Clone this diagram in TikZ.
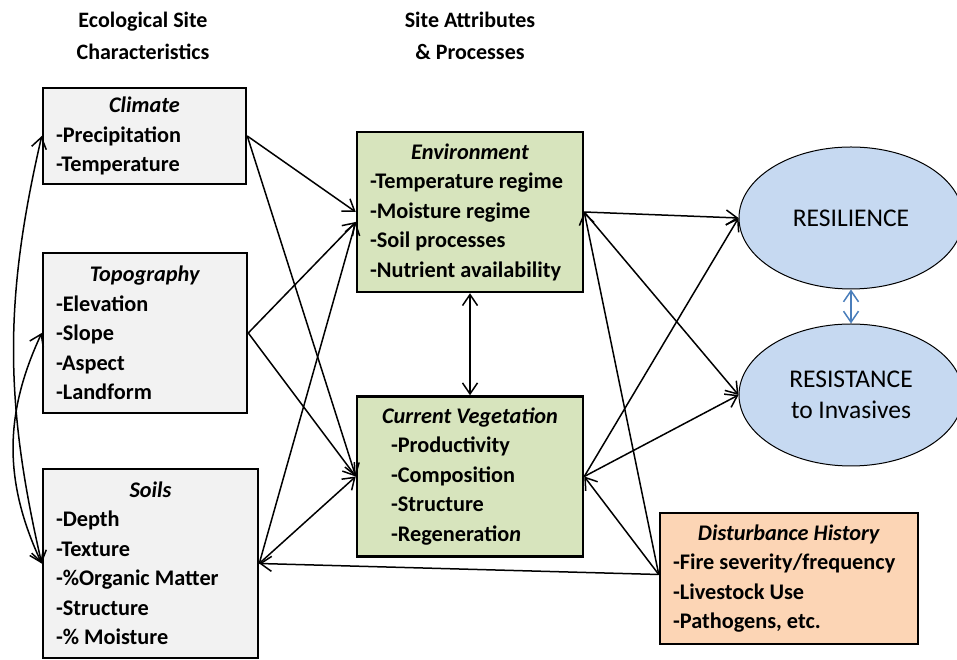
\documentclass[tikz,border=0pt]{standalone}
\usepackage{fontspec}
\setmainfont{Carlito}
\usepackage{xcolor}
\usepackage{tikz}
\usetikzlibrary{calc, arrows.meta, positioning, shapes.geometric}
\definecolor{boxgray}{HTML}{F2F2F2}
\definecolor{boxgreen}{HTML}{D7E4BD}
\definecolor{boxorange}{HTML}{FCD5B5}
\definecolor{ovalblue}{HTML}{C6D9F1}
\definecolor{linkblue}{HTML}{4A7EBB}
\newcommand{\boxtitle}[1]{\hfill\textit{#1}\hfill\null}
\tikzset{
	line width = 1.5pt,
	>={Straight Barb[length=11pt,width=15pt]},
	factor/.style={
		draw,
		rectangle,
		line width=2.5pt,
		inner xsep=13pt,
		inner ysep=0pt,
		align=flush left,
		font=\fontsize{22.3}{29.5}\selectfont\bfseries
	},
	outcome/.style={
		draw,
		ellipse,
		line width=1pt,
		fill=ovalblue,
		minimum width=224pt,
		minimum height=142pt,
		inner sep=0pt,
		align=center,
		font=\fontsize{25.5}{31}\selectfont
	},
	heading/.style={
		align=center,
		font=\fontsize{22}{32}\selectfont\bfseries
	},
	link/.style={
		->,
		line width=1.5pt
	}
}

\begin{document}
\begin{tikzpicture}[x=1pt, y=1pt]
		\useasboundingbox (0,0) rectangle (957,660);

		\node[heading] (head-eco) at (143,624) {Ecological Site\\Characteristics};
		\node[heading] (head-site) at (470,624) {Site Attributes\\\& Processes};

		\node[factor, fill=boxgray, minimum width=203pt, minimum height=96pt, text width=177pt] at (144.5,524) (clim)
			{\boxtitle{Climate}\\-Precipitation\\-Temperature};
		\node[factor, fill=boxgray, minimum width=204pt, minimum height=160pt, text width=178pt] at (145,327) (topo)
			{\boxtitle{Topography}\\-Elevation\\-Slope\\-Aspect\\-Landform};
		\node[factor, fill=boxgray, minimum width=215pt, minimum height=189pt, text width=189pt] at (150.5,96.5) (soils)
			{\boxtitle{Soils}\\-Depth\\-Texture\\-\%Organic Matter\\-Structure\\-\% Moisture};

		\node[factor, fill=boxgreen, minimum width=226pt, minimum height=160pt, text width=200pt] at (470,448) (env)
			{\boxtitle{Environment}\\-Temperature regime\\-Moisture regime\\-Soil processes\\-Nutrient availability};
		\node[factor, fill=boxgreen, minimum width=226pt, minimum height=160pt, text width=200pt, below=102pt of env] (veg)
			{\boxtitle{Current Vegetation}\\\hspace*{21pt}-Productivity\\\hspace*{21pt}-Composition\\\hspace*{21pt}-Structure\\\hspace*{21pt}-Regeneratio\textit{n}};

		\node[factor, fill=boxorange, minimum width=258pt, minimum height=131pt, text width=232pt] at (789,81.5) (dist)
			{\boxtitle{Disturbance History}\\-Fire severity/frequency\\-Livestock Use\\-Pathogens, etc.};

		\node[outcome] at (851,442) (resil) {RESILIENCE};
		\node[outcome, below=34pt of resil] (resist) {RESISTANCE\\to Invasives};

		\draw[link, <->] (clim.west) to[out=257, in=103] (soils.west);
		\draw[link, <->] (topo.west) to[out=245, in=115] (soils.west);

		\foreach \src in {clim, topo, soils} {
			\draw[link] (\src.east) to (veg.west);
		}
		\draw[link] (clim.east) to (env.west);
		\foreach \src in {topo, soils} {
			\draw[link] (\src.east) to ([yshift=-10pt]env.west);
		}
		\draw[link, <->] (env) to (veg);

		\foreach \src in {env, veg} {
			\foreach \dst in {resil, resist} {
				\draw[link] (\src.east) to (\dst.west);
			}
		}
		\foreach \dst in {env, veg, soils} {
			\draw[link] ([yshift=4pt]dist.west) to (\dst.east);
		}
		\draw[link, <->, linkblue] (resil) to (resist);
	\end{tikzpicture}
\end{document}
